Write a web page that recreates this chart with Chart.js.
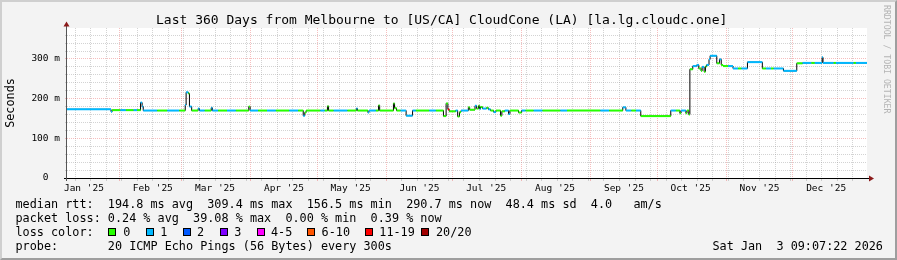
<!DOCTYPE html>
<html>
<head>
<meta charset="utf-8">
<script src="https://cdn.jsdelivr.net/npm/chart.js@4/dist/chart.umd.min.js"></script>
<style>
body { margin: 0; background: #f3f3f3; }
#wrap { position: relative; width: 897px; height: 260px; overflow: hidden; background: #f3f3f3;
        font-family: 'DejaVu Sans Mono', monospace; color: #000; }
#c { position: absolute; left: 0; top: 0; }
#title { position: absolute; left: 156px; top: 12px; font-size: 13px; line-height: 15px; white-space: pre; }
.txt { position: absolute; white-space: pre; font-size: 11.8px; line-height: 14px; }
.box { position: absolute; top: 228px; width: 6px; height: 6px; border: 1px solid #000; }
#mark { position: absolute; left: 882px; top: 5px; font-size: 8.2px; line-height: 10px; color: #b4b4b4;
        writing-mode: vertical-rl; white-space: pre; }
#frame { position: absolute; left: 0; top: 0; width: 893px; height: 256px; border: 2px solid;
         border-color: #cfcfcf #9e9e9e #9e9e9e #cfcfcf; pointer-events: none; }
</style>
</head>
<body>
<div id="wrap">
  <canvas id="c" width="897" height="260"></canvas>
  <div id="title">Last 360 Days from Melbourne to [US/CA] CloudCone (LA) [la.lg.cloudc.one]</div>
  <div id="mark">RRDTOOL / TOBI OETIKER</div>
  <div class="txt" style="left:15.5px;top:197px">median rtt:  194.8 ms avg  309.4 ms max  156.5 ms min  290.7 ms now  48.4 ms sd  4.0   am/s</div>
  <div class="txt" style="left:15.5px;top:211px">packet loss: 0.24 % avg  39.08 % max  0.00 % min  0.39 % now</div>
  <div class="txt" style="left:15.5px;top:225px">loss color:</div>
  <div id="losslegend"></div>
  <div class="txt" style="left:15.5px;top:239px">probe:       20 ICMP Echo Pings (56 Bytes) every 300s</div>
  <div class="txt" style="left:712.5px;top:239px">Sat Jan  3 09:07:22 2026</div>
  <div id="frame"></div>
</div>
<script>
// median rtt, one entry per step: start (days since Wed 8 Jan 2025 09:07), value (ms), loss class
var stepDay = [0.0, 19.8, 20.3, 24.0, 26.5, 30.0, 31.5, 33.1, 33.8, 34.3,
  40.6, 45.1, 50.5, 53.2, 53.6, 54.6, 55.1, 56.1, 59.0, 59.6,
  62.0, 64.9, 65.4, 68.0, 72.0, 76.0, 81.8, 82.4, 86.0, 90.0,
  94.0, 100.0, 104.0, 106.3, 107.0, 107.6, 114.0, 116.0, 117.2, 117.7,
  120.0, 126.2, 130.2, 130.7, 135.4, 135.9, 139.0, 140.2, 140.7, 146.9,
  147.4, 148.3, 150.1, 152.6, 155.5, 157.0, 163.0, 166.0, 169.4, 170.6,
  171.4, 172.0, 174.9, 175.8, 176.6, 177.3, 180.6, 181.2, 183.6, 184.3,
  185.2, 185.7, 186.1, 187.0, 188.8, 189.6, 190.6, 192.0, 193.0, 195.1,
  195.7, 197.0, 198.7, 199.3, 203.2, 204.6, 206.4, 210.0, 214.0, 222.0,
  225.0, 240.0, 244.0, 250.1, 251.5, 254.0, 256.0, 258.2, 271.7, 274.0,
  275.8, 276.3, 278.5, 279.0, 279.8, 280.3, 281.6, 283.4, 284.3, 285.3,
  285.8, 286.7, 287.3, 287.8, 288.9, 289.4, 292.4, 293.6, 294.4, 295.2,
  297.5, 299.7, 302.0, 303.5, 306.2, 312.9, 314.5, 316.8, 318.0, 322.4,
  328.4, 331.0, 335.0, 336.5, 339.8, 340.2, 345.0, 346.0, 354.0, 355.0];
var stepRtt = [173, 167, 171, 171, 171, 171, 171, 190, 180, 170,
  170, 170, 170, 184, 216, 213, 180, 170, 175, 170,
  170, 177, 170, 170, 170, 170, 180, 170, 170, 170,
  170, 170, 170, 157, 165, 170, 170, 170, 181, 170,
  170, 170, 175, 170, 165, 170, 170, 183, 170, 188,
  176, 170, 170, 157, 170, 170, 170, 170, 156, 188,
  173, 168, 170, 155, 166, 170, 178, 172, 182, 175,
  182, 174, 179, 175, 177, 173, 170, 166, 170, 157,
  168, 170, 161, 170, 165, 170, 170, 170, 170, 170,
  170, 170, 170, 178, 170, 170, 170, 156, 170, 170,
  163, 170, 163, 170, 160, 274, 282, 285, 276, 270,
  280, 268, 281, 285, 299, 308, 289, 299, 285, 282,
  282, 276, 276, 276, 292, 276, 276, 276, 276, 270,
  289, 290, 290, 290, 304, 290, 290, 290, 290, 290];
var stepLoss = [1, 1, 0, 1, 0, 1, 0, 1, 1, 1,
  0, 1, 0, 1, 1, 0, 1, 0, 1, 1,
  0, 1, 1, 0, 1, 0, 0, 1, 0, 1,
  0, 1, 0, 1, 0, 0, 1, 0, 0, 0,
  1, 0, 1, 0, 1, 1, 0, 0, 0, 0,
  0, 0, 1, 1, 1, 0, 1, 0, 0, 0,
  6, 0, 1, 0, 0, 1, 0, 0, 1, 0,
  0, 1, 0, 1, 0, 1, 0, 1, 0, 0,
  0, 1, 1, 0, 0, 1, 0, 1, 0, 1,
  0, 1, 0, 1, 1, 0, 1, 0, 1, 0,
  0, 1, 0, 0, 0, 0, 1, 1, 0, 0,
  1, 0, 0, 1, 1, 1, 0, 1, 0, 0,
  1, 1, 0, 1, 1, 0, 1, 0, 1, 1,
  0, 1, 0, 1, 1, 1, 0, 1, 0, 1];
var endDay = 360;

var lossLabels = ['0', '1', '2', '3', '4-5', '6-10', '11-19', '20/20'];
var lossColors = ['#26ff00', '#00b8ff', '#0059ff', '#7e00ff', '#ff00ff', '#ff5500', '#ff0000', '#a10000'];

// x axis: month starts (major grid), mid-month label spots, weekly minor grid (Sundays)
var monthLabels = ["Jan '25", "Feb '25", "Mar '25", "Apr '25", "May '25", "Jun '25",
                   "Jul '25", "Aug '25", "Sep '25", "Oct '25", "Nov '25", "Dec '25"];
var labelDays = [7.62, 38.62, 66.62, 97.62, 127.62, 158.62, 188.62, 219.62, 250.62, 280.62, 311.62, 341.62];
var majorDays = [23.62, 51.62, 82.62, 112.62, 143.62, 173.62, 204.62, 235.62, 265.62, 296.62, 326.62];
var weekDays = [];
for (var w = 3.62; w < endDay; w += 7) weekDays.push(Math.round(w * 100) / 100);

var yMax = 378;
var yTicks = [0, 20, 40, 60, 80, 100, 120, 140, 160, 180, 200, 220, 240, 260, 280, 300, 320, 340, 360];

// loss colour legend boxes
var boxLeft = [108, 145.7, 182.7, 220, 256.7, 307.3, 365, 421];
var labLeft = [123.3, 160.3, 197, 234.3, 271, 321.6, 379.3, 436];
var lg = document.getElementById('losslegend');
lossLabels.forEach(function (l, i) {
  var b = document.createElement('div');
  b.className = 'box';
  b.style.left = boxLeft[i] + 'px';
  b.style.background = lossColors[i];
  lg.appendChild(b);
  var t = document.createElement('div');
  t.className = 'txt';
  t.style.left = labLeft[i] + 'px';
  t.style.top = '225px';
  t.textContent = l;
  lg.appendChild(t);
});

// black stepped median line
var medianPts = stepDay.map(function (d, i) { return { x: d, y: stepRtt[i] }; });
medianPts.push({ x: endDay, y: stepRtt[stepRtt.length - 1] });

// coloured horizontal pieces, one per step, split by nulls
var colourPts = [];
stepDay.forEach(function (d, i) {
  var next = i + 1 < stepDay.length ? stepDay[i + 1] : endDay;
  colourPts.push({ x: d, y: stepRtt[i] }, { x: next, y: stepRtt[i] }, { x: next, y: null });
});

// x ticks: every grid/label spot once
var xTickVals = [];
weekDays.concat(majorDays, labelDays).forEach(function (v) {
  if (xTickVals.indexOf(v) < 0) xTickVals.push(v);
});
xTickVals.sort(function (p, q) { return p - q; });

var gridGray = 'rgba(150,150,150,0.42)';
var gridRed = 'rgba(235,110,110,0.45)';

var rrdFrame = {
  id: 'rrdFrame',
  beforeDraw: function (chart) {
    var a = chart.chartArea, c = chart.ctx;
    c.save();
    c.fillStyle = '#ffffff';
    c.fillRect(a.left, a.top, a.right - a.left, a.bottom - a.top);
    c.restore();
  },
  afterDraw: function (chart) {
    var a = chart.chartArea, c = chart.ctx;
    c.save();
    c.lineWidth = 1;
    c.strokeStyle = '#000';
    c.beginPath();
    c.moveTo(a.left - 3, a.bottom + 0.5);
    c.lineTo(a.right + 3, a.bottom + 0.5);
    c.stroke();
    c.strokeStyle = '#555';
    c.beginPath();
    c.moveTo(a.left - 0.5, a.bottom + 3);
    c.lineTo(a.left - 0.5, a.top - 2);
    c.stroke();
    c.fillStyle = '#8b1a1a';
    c.beginPath();
    c.moveTo(a.right + 7, a.bottom + 0.5);
    c.lineTo(a.right + 2, a.bottom - 2.5);
    c.lineTo(a.right + 2, a.bottom + 3.5);
    c.closePath();
    c.fill();
    c.beginPath();
    c.moveTo(a.left - 0.5, a.top - 6.5);
    c.lineTo(a.left - 3.5, a.top - 1.5);
    c.lineTo(a.left + 2.5, a.top - 1.5);
    c.closePath();
    c.fill();
    c.restore();
  }
};

new Chart(document.getElementById('c'), {
  type: 'line',
  data: {
    datasets: [{
      label: 'median',
      data: medianPts,
      stepped: 'before',
      borderColor: '#000',
      borderWidth: 1,
      pointRadius: 0,
      order: 2
    }, {
      label: 'loss colour',
      data: colourPts,
      borderColor: lossColors[0],
      borderWidth: 2,
      pointRadius: 0,
      spanGaps: false,
      order: 1,
      segment: {
        borderColor: function (ctx) { return lossColors[stepLoss[Math.floor(ctx.p0DataIndex / 3)]]; }
      }
    }]
  },
  options: {
    responsive: false,
    animation: false,
    devicePixelRatio: 1,
    events: [],
    layout: { padding: { left: 0, right: 30, top: 28, bottom: 62 } },
    plugins: { legend: { display: false }, tooltip: { enabled: false }, title: { display: false } },
    scales: {
      x: {
        type: 'linear',
        min: 0,
        max: endDay,
        afterFit: function (s) { s.height = 20; },
        afterBuildTicks: function (s) {
          s.ticks = xTickVals.map(function (v) { return { value: v }; });
        },
        border: { display: false, dash: [1, 1] },
        grid: {
          tickLength: 3,
          color: function (c) {
            var v = c.tick ? c.tick.value : null;
            if (majorDays.indexOf(v) >= 0) return gridRed;
            if (weekDays.indexOf(v) >= 0) return gridGray;
            return 'rgba(0,0,0,0)';
          }
        },
        ticks: {
          autoSkip: false,
          maxRotation: 0,
          minRotation: 0,
          padding: 2,
          color: '#000',
          font: { family: 'DejaVu Sans Mono', size: 9.5 },
          callback: function (v) {
            var i = labelDays.indexOf(v);
            return i >= 0 ? monthLabels[i] : '';
          }
        }
      },
      y: {
        type: 'linear',
        min: 0,
        max: yMax,
        afterFit: function (s) { s.width = 67; },
        afterBuildTicks: function (s) {
          s.ticks = yTicks.map(function (v) { return { value: v }; });
        },
        border: { display: false, dash: [1, 1] },
        grid: {
          tickLength: 2,
          color: function (c) {
            var v = c.tick ? c.tick.value : 0;
            if (v === 0) return 'rgba(0,0,0,0)';
            return v % 100 === 0 ? gridRed : gridGray;
          }
        },
        ticks: {
          autoSkip: false,
          padding: 5,
          color: '#000',
          font: { family: 'DejaVu Sans Mono', size: 9.5 },
          callback: function (v) {
            if (v % 100 !== 0) return '';
            return v === 0 ? '0  ' : v + ' m';
          }
        },
        title: {
          display: true,
          text: 'Seconds',
          color: '#000',
          padding: { top: 4, bottom: 0 },
          font: { family: 'DejaVu Sans Mono', size: 11.8 }
        }
      }
    }
  },
  plugins: [rrdFrame]
});
</script>
</body>
</html>
